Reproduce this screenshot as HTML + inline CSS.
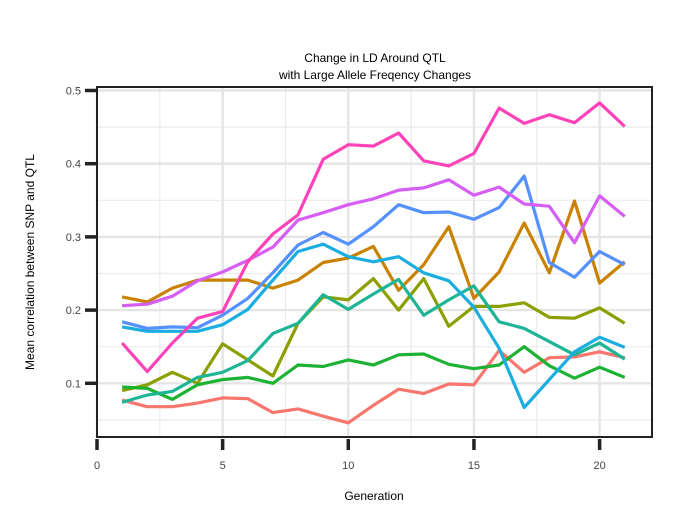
<!DOCTYPE html>
<html><head><meta charset="utf-8"><style>
body{margin:0;background:#fff}
svg{display:block;font-family:"Liberation Sans",Arial,sans-serif}
</style></head><body>
<svg id="chart" width="675" height="525" viewBox="0 0 675 525">
<g id="grid"></g>
<g id="lines"></g>
<rect x="97" y="87" width="555" height="350" fill="none" stroke="#222" stroke-width="2"/>
<g id="axes"></g>
<text x="375" y="62" font-size="12" text-anchor="middle" fill="#000">Change in LD Around QTL</text>
<text x="375" y="79" font-size="12" text-anchor="middle" fill="#000">with Large Allele Freqency Changes</text>
<text x="374" y="500" font-size="12" text-anchor="middle" fill="#000">Generation</text>
<text transform="translate(34,262) rotate(-90)" font-size="12" text-anchor="middle" fill="#000">Mean correlation between SNP and QTL</text>
</svg>
<script>
const generations=[1,2,3,4,5,6,7,8,9,10,11,12,13,14,15,16,17,18,19,20,21];
const xTicks=[0,5,10,15,20];
const yTicks=[0.1,0.2,0.3,0.4,0.5];
const seriesColors=["#F8766D","#C98200","#8C9F00","#1DB233","#1DB595","#1AAEE0","#5490FF","#D65EF5","#FF42B8"];
const sRed=[0.077,0.068,0.068,0.073,0.080,0.079,0.060,0.065,0.055,0.046,0.070,0.092,0.086,0.099,0.098,0.145,0.115,0.135,0.136,0.143,0.135];
const sBrown=[0.218,0.211,0.230,0.241,0.241,0.241,0.230,0.241,0.265,0.271,0.287,0.227,0.262,0.314,0.216,0.252,0.319,0.251,0.349,0.237,0.266];
const sOlive=[0.090,0.098,0.115,0.100,0.154,0.132,0.110,0.182,0.218,0.214,0.243,0.200,0.243,0.178,0.205,0.205,0.210,0.190,0.189,0.203,0.182];
const sGreen=[0.095,0.093,0.078,0.098,0.105,0.108,0.100,0.125,0.123,0.132,0.125,0.139,0.140,0.126,0.120,0.125,0.150,0.124,0.107,0.122,0.108];
const sTeal=[0.074,0.084,0.089,0.108,0.115,0.131,0.168,0.182,0.221,0.201,0.222,0.242,0.193,0.214,0.233,0.184,0.175,0.157,0.139,0.155,0.133];
const sCyan=[0.177,0.171,0.171,0.171,0.180,0.201,0.241,0.280,0.290,0.273,0.266,0.273,0.251,0.240,0.204,0.148,0.067,0.105,0.143,0.163,0.149];
const sBlue=[0.184,0.175,0.177,0.176,0.193,0.216,0.251,0.289,0.306,0.290,0.314,0.344,0.333,0.334,0.324,0.340,0.383,0.265,0.245,0.280,0.262];
const sViolet=[0.206,0.208,0.219,0.240,0.252,0.268,0.286,0.323,0.333,0.344,0.352,0.364,0.367,0.378,0.357,0.368,0.345,0.342,0.292,0.356,0.328];
const sPink=[0.155,0.116,0.155,0.189,0.198,0.266,0.304,0.330,0.406,0.426,0.424,0.442,0.404,0.397,0.414,0.476,0.455,0.467,0.456,0.483,0.451];
const allSeries=[sRed,sBrown,sOlive,sGreen,sTeal,sCyan,sBlue,sViolet,sPink];

const NS="http://www.w3.org/2000/svg";
const X0=97,XU=25.13,Y1=383.3,YU=732;
function xs(v){return X0+v*XU;}
function ys(v){return Y1-(v-0.1)*YU;}
function mk(tag,attrs,parent){const e=document.createElementNS(NS,tag);for(const k in attrs)e.setAttribute(k,attrs[k]);parent.appendChild(e);return e;}
const grid=document.getElementById('grid'),lines=document.getElementById('lines'),axes=document.getElementById('axes');
// minor grid
for(let v=2.5;v<22;v+=5){const l=mk('line',{x1:xs(v),x2:xs(v),y1:87,y2:437,stroke:'#ebebeb','stroke-width':1.2},grid);

}
for(let v=0.05;v<0.5;v+=0.1){const l=mk('line',{x1:97,x2:652,y1:ys(v),y2:ys(v),stroke:'#ebebeb','stroke-width':1.2},grid);

}
xTicks.forEach(t=>{
const l=mk('line',{x1:xs(t),x2:xs(t),y1:87,y2:437,stroke:'#e5e5e5','stroke-width':2.4},grid);


const tk=mk('line',{x1:xs(t),x2:xs(t),y1:439,y2:450,stroke:'#222','stroke-width':3.5},axes);


const tx=mk('text',{x:xs(t),y:469,'font-size':11,'text-anchor':'middle',fill:'#444'},axes);
tx.textContent=t;


});
yTicks.forEach(t=>{
const l=mk('line',{x1:97,x2:652,y1:ys(t),y2:ys(t),stroke:'#e5e5e5','stroke-width':2.4},grid);


const tk=mk('line',{x1:85,x2:96,y1:ys(t),y2:ys(t),stroke:'#222','stroke-width':3.5},axes);


const tx=mk('text',{x:81,y:ys(t)+4,'font-size':11,'text-anchor':'end',fill:'#444'},axes);
tx.textContent=t.toFixed(1);


});
allSeries.forEach((s,i)=>{
const pts=s.map((v,j)=>xs(generations[j]).toFixed(1)+','+ys(v).toFixed(1)).join(' ');
const p=mk('polyline',{points:pts,fill:'none',stroke:seriesColors[i],'stroke-width':3.2,'stroke-linejoin':'round'},lines);


});
</script>
</body></html>
